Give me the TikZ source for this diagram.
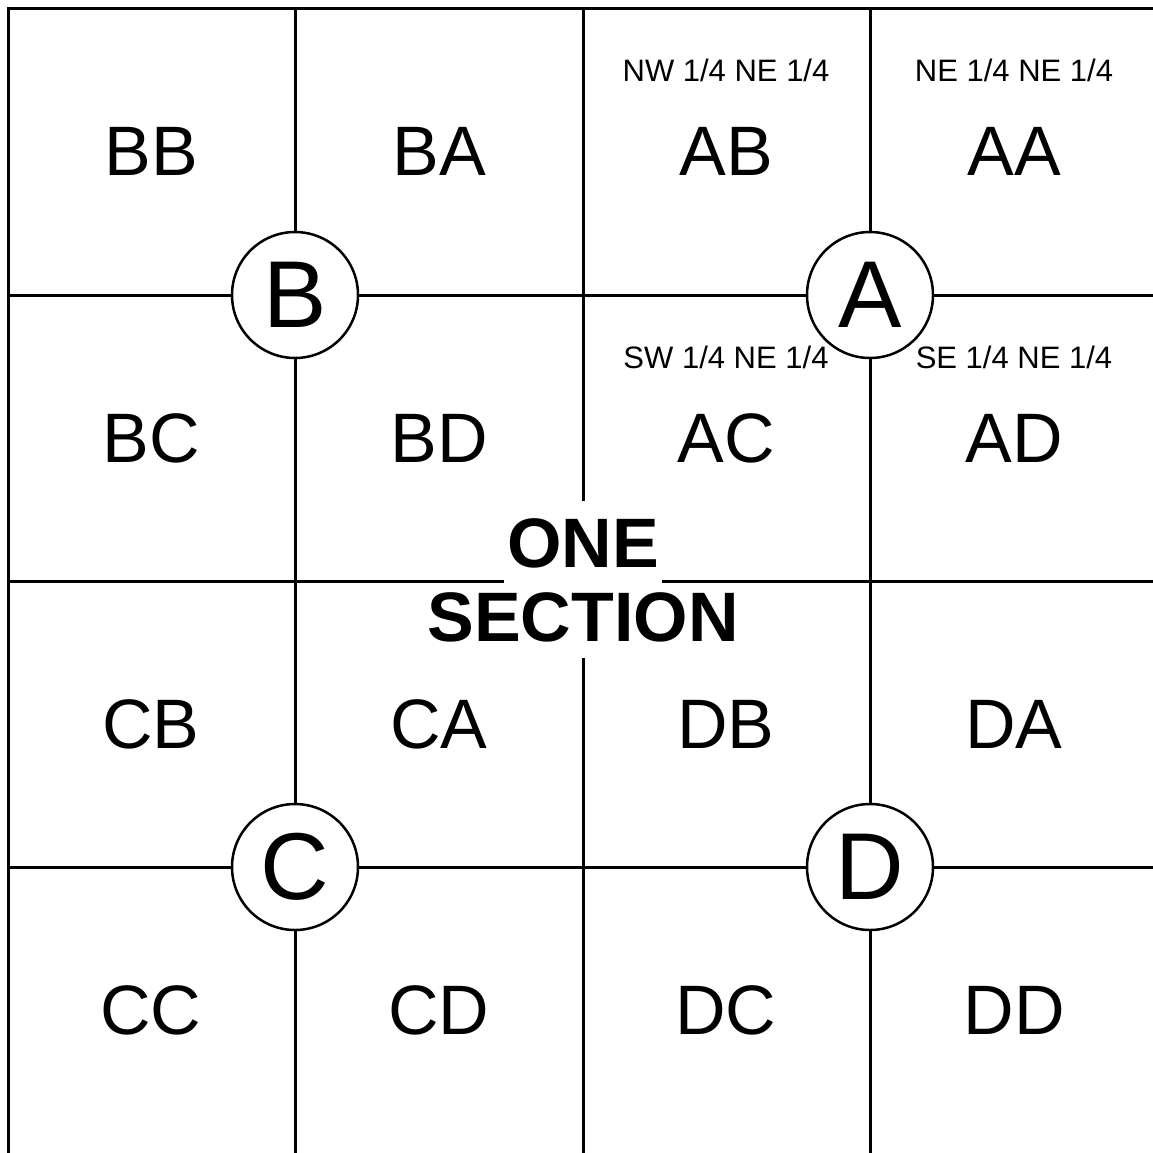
\documentclass[tikz,border=0pt]{standalone}
\usepackage{fontspec}
\setmainfont{Liberation Sans}
\begin{document}
\begin{tikzpicture}[x=1pt,y=-1pt,
  gridline/.style={line width=3pt,black},
  big/.style={font=\fontsize{70}{80}\selectfont},
  small/.style={font=\fontsize{31}{36}\selectfont},
  corner/.style={circle,draw,line width=2.5pt,fill=white,minimum size=126pt,inner sep=0pt,font=\fontsize{95}{100}\selectfont},
  titlebox/.style={fill=white,inner sep=0pt},
  title/.style={inner sep=0pt,font=\bfseries\fontsize{70}{80}\selectfont}]
\useasboundingbox (0,0) rectangle (1153,1152);
% grid
\draw[gridline] (8,8) rectangle (1158,1154);
\foreach \v in {295,583,870} {
  \draw[gridline] (\v,8) -- (\v,1154);
}
\foreach \h in {295,581,867} {
  \draw[gridline] (8,\h) -- (1158,\h);
}
% cell labels
\node[big] (bb) at (151,151) {BB};
\node[big] (ba) at (439,151) {BA};
\node[big] (ab) at (726,151) {AB};
\node[big] (aa) at (1014,151) {AA};
\node[big] (bc) at (151,438) {BC};
\node[big] (bd) at (439,438) {BD};
\node[big] (ac) at (726,438) {AC};
\node[big] (ad) at (1014,438) {AD};
\node[big] (cb) at (151,724) {CB};
\node[big] (ca) at (439,724) {CA};
\node[big] (db) at (726,724) {DB};
\node[big] (da) at (1014,724) {DA};
\node[big] (cc) at (151,1010) {CC};
\node[big] (cd) at (439,1010) {CD};
\node[big] (dc) at (726,1010) {DC};
\node[big] (dd) at (1014,1010) {DD};
% small labels
\node[small] (nw) at (726,70) {NW 1/4 NE 1/4};
\node[small] (ne) at (1014,70) {NE 1/4 NE 1/4};
\node[small] (sw) at (726,357) {SW 1/4 NE 1/4};
\node[small] (se) at (1014,357) {SE 1/4 NE 1/4};
% corner circles
\node[corner] (A) at (870,295) {A};
\node[corner] (B) at (295,295) {B};
\node[corner] (C) at (295,867) {C};
\node[corner] (D) at (870,867) {D};
% title
\node[titlebox,minimum width=318pt,minimum height=74pt] (sectionbox) at (583,621) {};
\node[titlebox,minimum width=158pt,minimum height=86pt] (onebox) at (583,544) {};
\node[title] (one) at (583,543) {ONE};
\node[title] (section) at (583,617) {SECTION};
\end{tikzpicture}
\end{document}
